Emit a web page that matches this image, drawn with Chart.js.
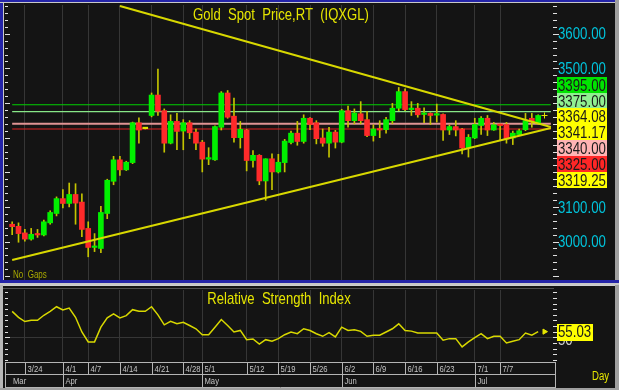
<!DOCTYPE html>
<html>
<head>
<meta charset="utf-8">
<script src="https://cdn.jsdelivr.net/npm/chart.js@4.4.1/dist/chart.umd.min.js"></script>
<style>
  html, body { margin: 0; padding: 0; background: #a9a9a9; }
  #wrap { position: relative; width: 619px; height: 390px; overflow: hidden; }
  canvas { position: absolute; left: 0; }
  #price { top: 0; }
  #rsi { top: 285px; }
</style>
</head>
<body>
<div id="wrap">
  <canvas id="price" width="619" height="285"></canvas>
  <canvas id="rsi" width="619" height="105"></canvas>
</div>
<script>
// daily bars, 3/20 .. 7/15
const dates = ['3/20','3/21','3/24','3/25','3/26','3/27','3/28','3/31',
  '4/1','4/2','4/3','4/4','4/7','4/8','4/9','4/10','4/11','4/14','4/15','4/16','4/17','4/18','4/21','4/22','4/23','4/24','4/25','4/28','4/29','4/30',
  '5/1','5/2','5/5','5/6','5/7','5/8','5/9','5/12','5/13','5/14','5/15','5/16','5/19','5/20','5/21','5/22','5/23','5/26','5/27','5/28','5/29','5/30',
  '6/2','6/3','6/4','6/5','6/6','6/9','6/10','6/11','6/12','6/13','6/16','6/17','6/18','6/19','6/20','6/23','6/24','6/25','6/26','6/27','6/30',
  '7/1','7/2','7/3','7/4','7/7','7/8','7/9','7/10','7/11','7/14','7/15'];
const futureDates = ['7/16', '7/17'];

const opens = [3050,3044,3025,3007,3022,3019,3054,3081,
  3124,3110,3136,3114,3038,2983,2980,3081,3174,3236,3207,3228,3343,3326,3364,3423,3378,3284,3347,3319,3343,3316,
  3287,3238,3236,3330,3429,3362,3300,3322,3234,3249,3175,3239,3201,3228,3286,3313,3289,3356,3343,3299,3284,3316,
  3287,3378,3349,3369,3352,3306,3325,3323,3349,3385,3433,3381,3385,3367,3370,3365,3367,3322,3332,3325,3270,
  3299,3335,3356,3322,3338,3338,3299,3309,3323,3356,3342];
const highs = [3057,3054,3035,3038,3035,3062,3089,3129,
  3150,3169,3167,3138,3057,3023,3102,3180,3246,3246,3232,3345,3357,3327,3429,3498,3383,3366,3370,3352,3349,3325,
  3292,3271,3334,3433,3436,3414,3347,3324,3263,3251,3239,3253,3252,3295,3319,3347,3366,3358,3349,3325,3330,3321,
  3382,3391,3383,3404,3376,3337,3349,3359,3399,3445,3441,3404,3399,3386,3372,3397,3369,3337,3349,3327,3309,
  3356,3361,3364,3344,3340,3344,3319,3325,3370,3370,3366];
const lows = [3020,2998,3001,3004,3012,3016,3050,3074,
  3097,3100,3050,3014,2956,2971,2968,3066,3164,3191,3205,3225,3284,3325,3360,3364,3258,3282,3265,3265,3297,3265,
  3201,3222,3234,3322,3356,3287,3270,3204,3215,3164,3119,3150,3198,3201,3282,3278,3284,3323,3282,3275,3244,3270,
  3285,3330,3340,3340,3303,3290,3300,3313,3340,3378,3378,3364,3359,3343,3338,3345,3292,3309,3305,3253,3244,
  3297,3309,3306,3321,3294,3284,3280,3306,3320,3330,3340];
const closes = [3043,3023,3007,3021,3019,3057,3084,3124,
  3110,3136,3111,3035,2983,2986,3084,3177,3236,3207,3229,3343,3322,3326,3423,3376,3284,3347,3318,3343,3314,3284,
  3238,3240,3332,3429,3359,3300,3324,3234,3249,3175,3239,3201,3229,3290,3313,3289,3356,3338,3297,3284,3316,3287,
  3378,3349,3371,3349,3306,3325,3322,3352,3385,3433,3381,3385,3366,3371,3364,3368,3322,3332,3322,3270,3301,
  3338,3356,3322,3337,3335,3296,3313,3320,3349,3345,3364];

// 14-day RSI
const rsi = [73.1,67.8,64.0,65.2,65.2,69.6,73.1,77.2,
  74.3,76.0,67.8,54.7,45.9,45.9,59.0,67.3,70.8,67.3,69.3,74.6,73.1,73.1,77.2,70.0,61.1,64.3,62.0,63.4,60.5,57.6,
  52.3,52.3,59.0,65.8,60.5,54.7,56.1,47.9,48.5,43.9,47.9,46.5,48.8,52.3,54.7,53.2,57.6,56.0,53.2,50.9,54.1,50.3,
  59.0,56.1,56.7,55.3,50.9,51.8,51.8,54.7,57.6,62.0,56.1,55.5,53.8,53.8,53.8,53.8,47.4,48.8,48.8,41.5,45.9,
  49.7,53.2,48.8,50.9,50.9,45.0,46.5,47.9,53.8,51.8,55.03];

// horizontal levels and trend lines
const levelValues = [3395, 3375, 3340, 3325];
const levelColors = ['#00d000', '#88e888', '#e09494', '#d82020'];
const upperTrendDates = ['4/14', '7/17'];
const upperTrendValues = [3680, 3331];
const lowerTrendDates = ['3/20', '7/17'];
const lowerTrendValues = [2947, 3328];

// right-hand value boxes
const boxValues = [3395.00, 3375.00, 3364.08, 3341.17, 3340.00, 3325.00, 3319.25];
const boxColors = ['#00e400', '#90f090', '#ffff00', '#ffff00', '#ffb4b4', '#ff2626', '#ffff00'];

// axis labels
const priceTickLabels = [3000, 3100, 3500, 3600];
const rsiTickLabels = [50];
const tickDates = ['3/24','4/1','4/7','4/14','4/21','4/28','5/1','5/12','5/19','5/26','6/2','6/9','6/16','6/23','7/1','7/7'];
const monthStarts = ['3/20','4/1','5/1','6/2','7/1'];
const monthNames = ['Mar','Apr','May','Jun','Jul'];

const labels = dates.concat(futureDates);
const SANS = '"Liberation Sans", Arial, sans-serif';
const BG = '#141414';
const GRID = '#363636';
const YELLOW = '#e6e600';
const weekIdx = new Set(tickDates.map(d => labels.indexOf(d)));

function lineAt(ds, vs) {
  return labels.map(l => {
    const k = ds.indexOf(l);
    return k >= 0 ? vs[k] : null;
  });
}

// the terminal uses a condensed face, so squeeze the text horizontally
function sText(c, text, x, y, sx, align) {
  c.save();
  c.translate(x, y);
  c.scale(sx, 1);
  c.textAlign = align || 'left';
  c.fillText(text, 0, 0);
  c.restore();
}

function edgeTicks(c, s, a, step, major) {
  c.strokeStyle = '#e0e0e0';
  c.lineWidth = 1;
  c.beginPath();
  for (let v = Math.ceil(s.min / step) * step; v <= s.max; v += step) {
    const py = Math.round(s.getPixelForValue(v)) + 0.5;
    const len = v % major === 0 ? 5 : 3;
    c.moveTo(a.left - 4, py); c.lineTo(a.left - 4 + len, py);
    c.moveTo(a.right - 1, py); c.lineTo(a.right + len, py);
  }
  c.stroke();
}

const xAxis = {
  offset: true,
  ticks: { display: false, autoSkip: false },
  grid: { offset: false, drawTicks: false, color: c => weekIdx.has(c.index) ? GRID : 'transparent' },
  border: { display: false },
  afterFit: s => { s.height = 0; }
};

const candleColor = labels.map((l, i) =>
  closes[i] > opens[i] ? '#00f000' : closes[i] < opens[i] ? '#ff2a2a' : '#e0e000');

const priceDecor = {
  id: 'priceDecor',
  beforeDraw(chart) {
    const c = chart.ctx;
    c.save();
    c.fillStyle = BG;
    c.fillRect(0, 0, chart.width, chart.height);
    c.restore();
  },
  afterDraw(chart) {
    const c = chart.ctx, a = chart.chartArea, y = chart.scales.y;
    c.save();
    edgeTicks(c, y, a, 20, 100);
    c.textBaseline = 'middle';
    c.fillStyle = YELLOW;
    c.font = '17px ' + SANS;
    sText(c, 'Gold  Spot  Price,RT  (IQXGL)', 281, 15, 0.77, 'center');
    c.font = '10px ' + SANS;
    c.fillStyle = '#a8a800';
    sText(c, 'No  Gaps', a.left + 4, a.bottom - 5, 0.8);

    c.font = '17px ' + SANS;
    c.fillStyle = '#00c4dc';
    priceTickLabels.forEach(v => sText(c, v.toFixed(2), a.right + 4, y.getPixelForValue(v) + 1, 0.78));

    const top = y.getPixelForValue(boxValues[0]) - 28;
    boxValues.forEach((v, i) => {
      const by = Math.round(top + i * 15.8);
      c.fillStyle = boxColors[i];
      c.fillRect(a.right + 3, by, 50, 16);
      c.fillStyle = '#1a1a1a';
      sText(c, v.toFixed(2), a.right + 4, by + 9, 0.78);
    });

    c.fillStyle = '#2424a8';
    c.fillRect(0, 0, chart.width, 2);
    c.fillRect(0, 0, 3, chart.height);
    c.fillRect(0, a.bottom, chart.width, 3);
    c.fillStyle = '#c8c8c8';
    c.fillRect(0, 2, chart.width, 1);
    c.fillRect(3, 2, 1, a.bottom - 2);
    c.fillRect(0, a.bottom + 3, chart.width, 2);
    c.fillStyle = '#a0a0a0';
    c.fillRect(chart.width - 4, 0, 4, a.bottom);
    c.restore();
  }
};

new Chart(document.getElementById('price'), {
  data: {
    labels: labels,
    datasets: [
      ...levelValues.map((v, k) => ({
        type: 'line', data: lineAt([labels[0], labels[labels.length - 1]], [v, v]),
        borderColor: levelColors[k], borderWidth: k === 2 ? 2 : 1.2,
        pointRadius: 0, spanGaps: true, order: 5
      })),
      {
        type: 'bar', data: lows.map((l, i) => [l, highs[i]]),
        backgroundColor: '#c4c400', barThickness: 1, grouped: false, order: 3
      },
      {
        type: 'bar', data: opens.map((o, i) => [Math.min(o, closes[i]), Math.max(o, closes[i])]),
        backgroundColor: candleColor, barThickness: 5, minBarLength: 1.5, grouped: false, order: 2
      },
      {
        type: 'line', data: lineAt(upperTrendDates, upperTrendValues),
        borderColor: '#d8d800', borderWidth: 2, pointRadius: 0, spanGaps: true, order: 1
      },
      {
        type: 'line', data: lineAt(lowerTrendDates, lowerTrendValues),
        borderColor: '#d8d800', borderWidth: 2, pointRadius: 0, spanGaps: true, order: 1
      },
      {
        type: 'line', data: lineAt([futureDates[0]], [closes[closes.length - 1]]),
        showLine: false, pointStyle: 'cross', pointRadius: 3, borderColor: YELLOW, borderWidth: 1, order: 0
      }
    ]
  },
  options: {
    responsive: false,
    animation: false,
    events: [],
    layout: { padding: { left: 9, right: 0, top: 4, bottom: 5 } },
    plugins: { legend: { display: false }, tooltip: { enabled: false } },
    scales: {
      x: xAxis,
      y: {
        position: 'right',
        min: 2889,
        max: 3683,
        afterFit: s => { s.width = 65; },
        border: { display: false },
        grid: { drawTicks: false, color: c => c.tick && c.tick.value % 200 === 0 ? GRID : 'transparent' },
        ticks: { display: false, stepSize: 100, includeBounds: false }
      }
    }
  },
  plugins: [priceDecor]
});

const rsiDecor = {
  id: 'rsiDecor',
  beforeDraw(chart) {
    const c = chart.ctx;
    c.save();
    c.fillStyle = BG;
    c.fillRect(0, 0, chart.width, chart.height);
    c.restore();
  },
  afterDraw(chart) {
    const c = chart.ctx, a = chart.chartArea, x = chart.scales.x, y = chart.scales.y;
    c.save();
    edgeTicks(c, y, a, 5, 50);
    c.textBaseline = 'middle';
    c.fillStyle = YELLOW;
    c.font = '17px ' + SANS;
    sText(c, 'Relative  Strength  Index', 279, 14, 0.77, 'center');

    c.fillStyle = '#d0d0d0';
    rsiTickLabels.forEach(v => sText(c, String(v), a.right + 4, y.getPixelForValue(v) + 3, 0.78));

    const last = rsi[rsi.length - 1];
    const by = y.getPixelForValue(last);
    c.fillStyle = '#ffff00';
    c.fillRect(a.right + 3, Math.round(by - 8), 36, 17);
    c.fillStyle = '#1a1a1a';
    sText(c, last.toFixed(2), a.right + 4, by + 1, 0.78);

    const r0 = a.bottom + 1.5, r1 = r0 + 12, r2 = r1 + 13;
    const px = d => Math.round(x.getPixelForValue(labels.indexOf(d))) + 0.5;
    c.strokeStyle = '#b4b4b4';
    c.lineWidth = 1;
    c.beginPath();
    [r0, r1, r2].forEach(ry => { c.moveTo(5, ry); c.lineTo(a.right + 2, ry); });
    c.moveTo(5.5, r0); c.lineTo(5.5, r2);
    c.moveTo(a.right + 1.5, r0); c.lineTo(a.right + 1.5, r2);
    tickDates.forEach(d => { c.moveTo(px(d), r0); c.lineTo(px(d), r1); });
    monthStarts.slice(1).forEach(d => { c.moveTo(px(d), r1); c.lineTo(px(d), r2); });
    c.stroke();

    c.fillStyle = '#c4c4c4';
    c.font = '9px ' + SANS;
    tickDates.forEach(d => sText(c, d, px(d) + 2, (r0 + r1) / 2 + 1, 0.85));
    monthNames.forEach((m, k) => sText(c, m, k === 0 ? 13 : px(monthStarts[k]) + 2, (r1 + r2) / 2 + 1, 0.85));

    c.fillStyle = YELLOW;
    c.font = '12px ' + SANS;
    sText(c, 'Day', 592, 92, 0.8);

    c.fillStyle = '#d0d0d0';
    c.fillRect(0, 0, chart.width, 1);
    c.fillStyle = '#505050';
    c.fillRect(3, 3, a.right - 3, 1);
    c.fillStyle = '#b8b8b8';
    c.fillRect(0, 0, 3, chart.height);
    c.fillStyle = '#a0a0a0';
    c.fillRect(chart.width - 4, 0, 4, chart.height);
    c.fillRect(0, chart.height - 2, chart.width, 2);
    c.restore();
  }
};

new Chart(document.getElementById('rsi'), {
  type: 'line',
  data: {
    labels: labels,
    datasets: [
      {
        data: rsi, borderColor: '#d8d800', borderWidth: 1.5, pointRadius: 0, tension: 0, order: 1
      },
      {
        data: lineAt([futureDates[0]], [rsi[rsi.length - 1]]),
        showLine: false, pointStyle: 'triangle', rotation: 90, pointRadius: 3,
        backgroundColor: YELLOW, borderColor: YELLOW, order: 0
      }
    ]
  },
  options: {
    responsive: false,
    animation: false,
    events: [],
    layout: { padding: { left: 9, right: 0, top: 4, bottom: 29 } },
    plugins: { legend: { display: false }, tooltip: { enabled: false } },
    scales: {
      x: xAxis,
      y: {
        position: 'right',
        min: 28.9,
        max: 92.1,
        afterFit: s => { s.width = 65; },
        border: { display: false },
        grid: { drawTicks: false, color: c => c.tick && c.tick.value === 50 ? GRID : 'transparent' },
        ticks: { display: false, stepSize: 5, includeBounds: false }
      }
    }
  },
  plugins: [rsiDecor]
});
</script>
</body>
</html>
